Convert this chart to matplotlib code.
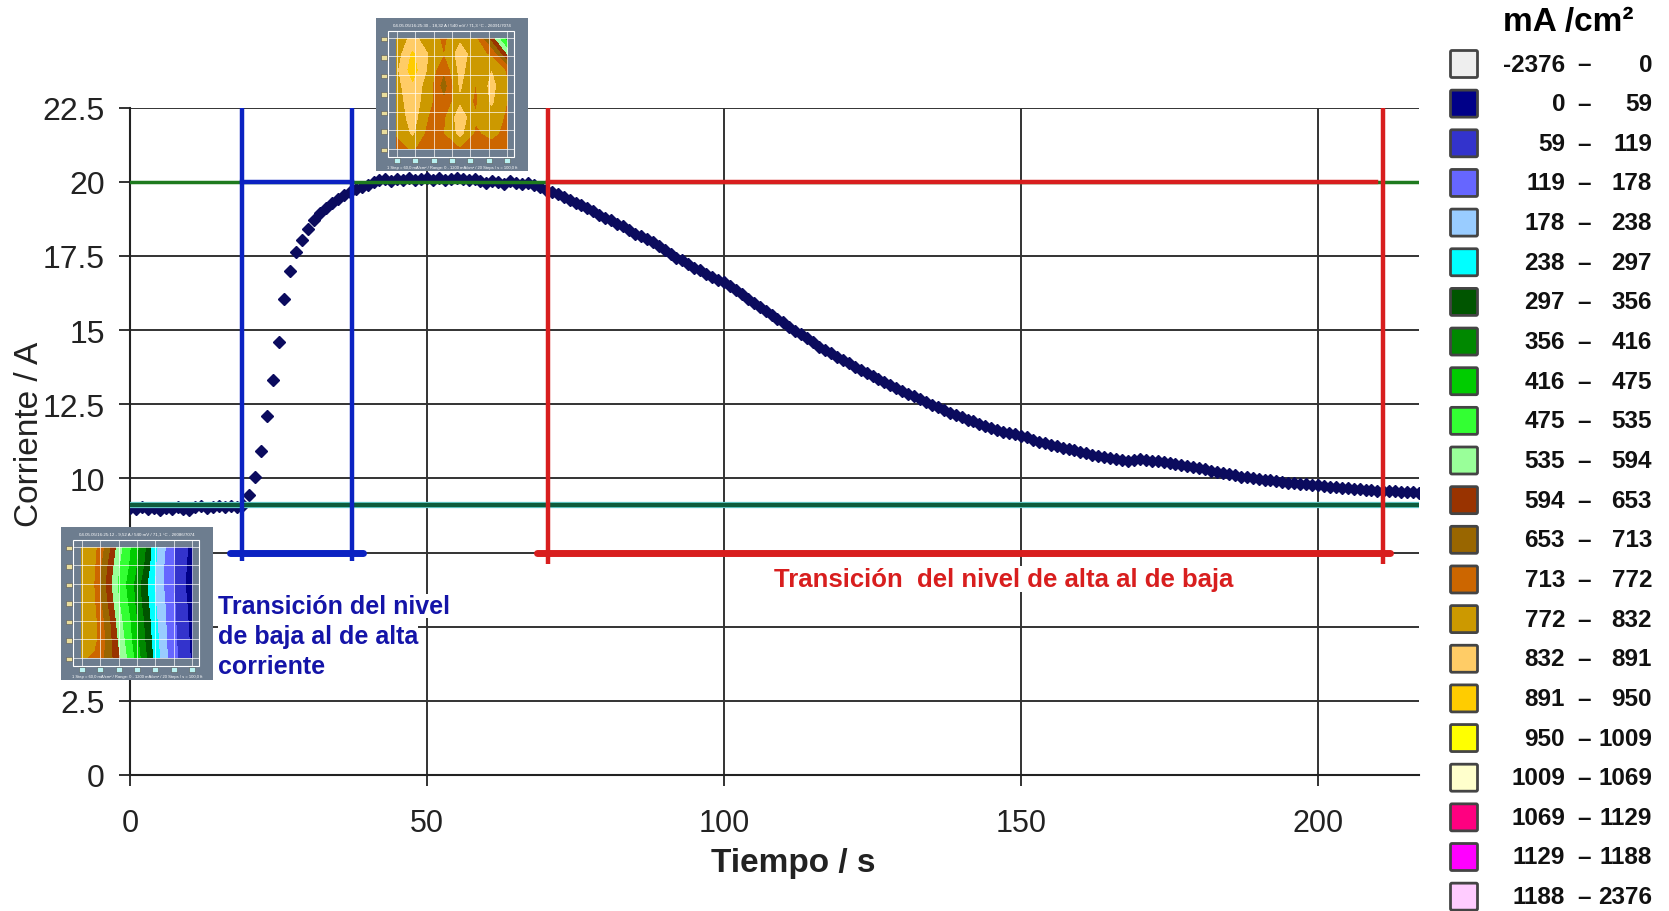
import matplotlib.pyplot as plt
from matplotlib.patches import FancyBboxPatch, Rectangle
import numpy as np

plt.rcParams['font.family'] = ['Liberation Sans', 'DejaVu Sans']

# Tiempo (s) y corriente (A) medidos
tiempo = [
    0, 1, 2, 3, 4, 5, 6, 7, 8, 9, 10, 11, 12, 13, 14, 15, 16, 17, 18, 19,
    20, 21, 22, 23, 24, 25, 26, 27, 28, 29, 30, 31, 32, 33, 34, 35, 36, 37, 38, 39,
    40, 41, 42, 43, 44, 45, 46, 47, 48, 49, 50, 51, 52, 53, 54, 55, 56, 57, 58, 59,
    60, 61, 62, 63, 64, 65, 66, 67, 68, 69, 70, 71, 72, 73, 74, 75, 76, 77, 78, 79,
    80, 81, 82, 83, 84, 85, 86, 87, 88, 89, 90, 91, 92, 93, 94, 95, 96, 97, 98, 99,
    100, 101, 102, 103, 104, 105, 106, 107, 108, 109, 110, 111, 112, 113, 114, 115, 116, 117, 118, 119,
    120, 121, 122, 123, 124, 125, 126, 127, 128, 129, 130, 131, 132, 133, 134, 135, 136, 137, 138, 139,
    140, 141, 142, 143, 144, 145, 146, 147, 148, 149, 150, 151, 152, 153, 154, 155, 156, 157, 158, 159,
    160, 161, 162, 163, 164, 165, 166, 167, 168, 169, 170, 171, 172, 173, 174, 175, 176, 177, 178, 179,
    180, 181, 182, 183, 184, 185, 186, 187, 188, 189, 190, 191, 192, 193, 194, 195, 196, 197, 198, 199,
    200, 201, 202, 203, 204, 205, 206, 207, 208, 209, 210, 211, 212, 213, 214, 215, 216, 217]

corriente = [
    9.00, 8.96, 9.02, 8.97, 9.00, 8.94, 9.01, 8.98, 9.03, 8.97, 8.95, 9.02, 9.06, 9.00, 9.04, 9.08, 9.02, 9.06, 9.05, 9.10,
    9.44, 10.03, 10.93, 12.10, 13.30, 14.60, 16.05, 16.98, 17.62, 18.05, 18.42, 18.72, 18.93, 19.13, 19.28, 19.42, 19.54, 19.66, 19.74, 19.82,
    19.90, 19.98, 20.05, 20.08, 20.04, 20.10, 20.06, 20.12, 20.05, 20.09, 20.13, 20.07, 20.11, 20.06, 20.10, 20.14, 20.08, 20.05, 20.10, 20.02,
    19.96, 20.04, 19.98, 19.94, 20.02, 19.97, 19.93, 19.96, 19.88, 19.84, 19.72, 19.66, 19.58, 19.50, 19.38, 19.28, 19.22, 19.10, 19.02, 18.88,
    18.78, 18.70, 18.58, 18.50, 18.36, 18.24, 18.18, 18.08, 17.98, 17.84, 17.70, 17.58, 17.44, 17.36, 17.22, 17.10, 17.02, 16.90, 16.80, 16.70,
    16.62, 16.48, 16.36, 16.22, 16.06, 15.92, 15.78, 15.64, 15.52, 15.38, 15.26, 15.12, 14.98, 14.86, 14.72, 14.60, 14.44, 14.34, 14.22, 14.10,
    13.98, 13.88, 13.76, 13.66, 13.56, 13.46, 13.36, 13.26, 13.16, 13.06, 12.96, 12.86, 12.78, 12.68, 12.58, 12.48, 12.40, 12.32, 12.22, 12.14,
    12.06, 11.98, 11.92, 11.84, 11.76, 11.70, 11.64, 11.58, 11.52, 11.48, 11.44, 11.38, 11.30, 11.24, 11.18, 11.14, 11.08, 11.02, 10.98, 10.94,
    10.90, 10.84, 10.80, 10.76, 10.72, 10.68, 10.64, 10.62, 10.60, 10.62, 10.64, 10.62, 10.60, 10.58, 10.56, 10.52, 10.50, 10.46, 10.42, 10.40,
    10.36, 10.30, 10.26, 10.22, 10.18, 10.14, 10.10, 10.06, 10.04, 10.00, 9.98, 9.95, 9.93, 9.90, 9.88, 9.86, 9.84, 9.82, 9.80, 9.78,
    9.76, 9.74, 9.72, 9.70, 9.68, 9.66, 9.64, 9.63, 9.62, 9.60, 9.59, 9.58, 9.57, 9.56, 9.55, 9.54, 9.53, 9.52]

# Niveles de corriente y limites de las transiciones
nivel_alto = 20.0
nivel_bajo = 9.1
subida = [18.8, 37.4]
bajada = [70.3, 211.0]

# Escala de densidad de corriente (mA/cm2)
limites = [-2376, 0, 59, 119, 178, 238, 297, 356, 416, 475, 535, 594, 653, 713,
           772, 832, 891, 950, 1009, 1069, 1129, 1188, 2376]
colores = ['#eeeeee', '#000088', '#3333cc', '#6666ff', '#99ccff', '#00ffff', '#005500',
           '#008800', '#00cc00', '#33ff33', '#99ff99', '#993300', '#996600', '#cc6600',
           '#cc9900', '#ffcc66', '#ffcc00', '#ffff00', '#ffffcc', '#ff0080', '#ff00ff', '#ffccff']

# Mapas de densidad de corriente (filas de arriba a abajo)
mapa_alto = [
    [790, 850, 800, 760, 820, 780, 620, 440],
    [800, 900, 830, 770, 860, 800, 760, 580],
    [820, 920, 820, 720, 850, 790, 830, 760],
    [810, 880, 800, 680, 840, 770, 850, 780],
    [800, 870, 790, 720, 820, 760, 840, 770],
    [790, 860, 770, 760, 870, 780, 810, 760],
    [780, 840, 750, 770, 850, 760, 790, 750],
    [740, 780, 720, 730, 760, 730, 740, 720]]
mapa_bajo = [
    [800, 790, 690, 560, 470, 380, 250, 160, 90, 40],
    [810, 780, 660, 540, 460, 360, 240, 150, 85, 35],
    [820, 770, 640, 520, 440, 330, 230, 150, 80, 30],
    [820, 780, 660, 540, 450, 340, 240, 160, 90, 35],
    [810, 790, 690, 560, 470, 360, 250, 165, 95, 40],
    [800, 790, 700, 580, 480, 370, 260, 170, 100, 45],
    [780, 760, 700, 600, 500, 390, 270, 175, 105, 50]]

fig = plt.figure(figsize=(16.69, 9.12), dpi=100)
ax = fig.add_axes([130 / 1669, 1 - 776 / 912, 1289 / 1669, 667.4 / 912])

# Datos
ax.plot(tiempo, corriente, 'D', color='#0b0b5e', markersize=6, zorder=4)

# Niveles alto y bajo
ax.axhline(nivel_alto, color='#1e7a1e', lw=2.5, zorder=4.5)
ax.axhline(nivel_bajo, color='#66cccc', lw=4.5, zorder=4.5)
ax.axhline(nivel_bajo, color='#0d5c3c', lw=3, zorder=4.6)

# Transicion baja -> alta (azul)
azul = '#0b22c2'
ax.vlines(subida, 7.2, 22.5, color=azul, lw=3.2, zorder=5)
ax.plot(subida, [nivel_alto, nivel_alto], color=azul, lw=3.2, zorder=5)
ax.plot([16.8, 39.3], [7.5, 7.5], color=azul, lw=5, solid_capstyle='round', zorder=5)

# Transicion alta -> baja (rojo)
rojo = '#d81e1e'
ax.vlines(bajada, 7.1, 22.5, color=rojo, lw=3.2, zorder=5)
ax.plot([bajada[0], 209.8], [nivel_alto, nivel_alto], color=rojo, lw=3.2, zorder=5)
ax.plot([68.5, 212.1], [7.5, 7.5], color=rojo, lw=5, solid_capstyle='round', zorder=5)

# Textos
texto_azul = ['Transición del nivel', 'de baja al de alta', 'corriente']
for i, linea in enumerate(texto_azul):
    ax.text(14.8, 5.70 - 1.02 * i, linea, color='#1414a8', fontsize=18, fontweight='bold',
            ha='left', va='center', zorder=6,
            bbox=dict(facecolor='white', edgecolor='none', pad=0))
ax.text(147.1, 6.61, 'Transición  del nivel de alta al de baja', color=rojo, fontsize=18.5,
        fontweight='bold', ha='center', va='center', zorder=6,
        bbox=dict(facecolor='white', edgecolor='none', pad=1))

# Ejes
ax.set_xlim(0, 217)
ax.set_ylim(0, 22.5)
ax.set_xticks([0, 50, 100, 150, 200])
ax.set_yticks([0, 2.5, 5, 7.5, 10, 12.5, 15, 17.5, 20, 22.5])
ax.set_yticklabels(['0', '2.5', '5', '7.5', '10', '12.5', '15', '17.5', '20', '22.5'])
ax.grid(True, color='#333333', lw=1.4)
ax.set_axisbelow(True)
for s in ['top', 'right']:
    ax.spines[s].set_visible(False)
for s in ['left', 'bottom']:
    ax.spines[s].set_color('#222222')
    ax.spines[s].set_linewidth(1.5)
ax.tick_params(axis='y', direction='out', length=8, width=1.3, pad=10, labelsize=23, colors='#222222')
ax.tick_params(axis='x', direction='out', length=8, width=1.3, pad=16, labelsize=22, colors='#222222')

fig.text(793 / 1669, 1 - 864 / 912, 'Tiempo / s', fontsize=24, fontweight='bold',
         ha='center', va='center', color='#222222')
fig.text(29 / 1669, 1 - 434 / 912, 'Corriente / A', fontsize=24, rotation=90,
         ha='center', va='center', color='#222222')

# Leyenda de la escala
ley = fig.add_axes([0, 0, 1, 1])
ley.set_xlim(0, 1669)
ley.set_ylim(912, 0)
ley.axis('off')
ley.text(1568, 23, 'mA /cm²', fontsize=24, fontweight='bold', ha='center', va='center')
for i in range(len(colores)):
    yc = 65 + 39.65 * i
    ley.add_patch(FancyBboxPatch((1452, yc - 12), 24, 24, boxstyle='round,pad=1.5',
                                 facecolor=colores[i], edgecolor='#444444', lw=2))
    ley.text(1565, yc, str(limites[i]), fontsize=17.5, fontweight='bold', ha='right',
             va='center', color='#111111')
    ley.text(1584, yc, '–', fontsize=17.5, fontweight='bold', ha='center', va='center',
             color='#111111')
    ley.text(1652, yc, str(limites[i + 1]), fontsize=17.5, fontweight='bold', ha='right',
             va='center', color='#111111')


# Mapas insertados
def dibujar_mapa(pos, mapa, titulo):
    m = fig.add_axes(pos)
    m.set_facecolor('#6d7d8f')
    m.set_xlim(0, 1)
    m.set_ylim(0, 1)
    m.set_xticks([])
    m.set_yticks([])
    for s in m.spines.values():
        s.set_visible(False)
    datos = np.array(mapa)[::-1]
    xs = np.linspace(0.138, 0.864, datos.shape[1])
    ys = np.linspace(0.144, 0.867, datos.shape[0])
    m.contourf(xs, ys, datos, levels=limites, colors=colores, zorder=1)
    m.add_patch(Rectangle((0.083, 0.09), 0.827, 0.827, fill=False, edgecolor='white', lw=0.8, zorder=2))
    for g in np.linspace(0.138, 0.864, 7):
        m.plot([g, g], [0.09, 0.917], color='white', lw=0.6, alpha=0.8, zorder=2)
        m.plot([0.083, 0.91], [g + 0.006, g + 0.006], color='white', lw=0.6, alpha=0.8, zorder=2)
        m.add_patch(Rectangle((0.035, g - 0.015), 0.04, 0.03, facecolor='#e8dc9c',
                              edgecolor='#555555', lw=0.4, zorder=3))
        m.add_patch(Rectangle((g - 0.02, 0.052), 0.04, 0.03, facecolor='#b8f0f0',
                              edgecolor='#555555', lw=0.4, zorder=3))
    m.text(0.5, 0.955, titulo, fontsize=3.2, color='white', ha='center', va='center')
    m.text(0.5, 0.025, '1 Step = 60,0 mA/cm² / Range: 0 - 1200 mA/cm² / 20 Steps / s = 100,0 ft',
           fontsize=3.0, color='white', ha='center', va='center')


dibujar_mapa([375.7 / 1669, 1 - 172 / 912, 152.3 / 1669, 153 / 912], mapa_alto,
             '04.05.05/16:25:30 - 18,32 A / 540 mV / 71,3 °C - 26091/7074')
dibujar_mapa([60.7 / 1669, 1 - 681 / 912, 152.3 / 1669, 153 / 912], mapa_bajo,
             '04.05.05/16:25:12 - 9,52 A / 540 mV / 71,1 °C - 26086/7074')

plt.savefig('out.png', dpi=100)
